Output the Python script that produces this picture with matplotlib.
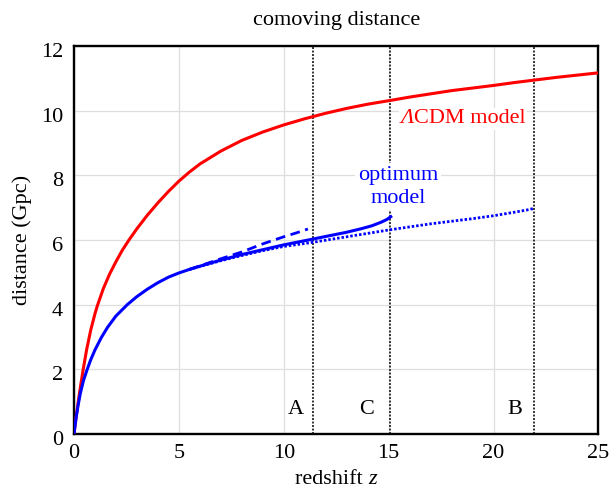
import matplotlib
matplotlib.use("Agg")
import matplotlib.pyplot as plt
import matplotlib.transforms as mtransforms
from matplotlib.offsetbox import TextArea, HPacker, AnnotationBbox

plt.rcParams['font.family'] = ['Liberation Serif', 'DejaVu Serif']

# LambdaCDM comoving distance (Gpc)
z_lcdm = [0, 0.1, 0.2, 0.3, 0.44, 0.6, 0.8, 1.0, 1.11, 1.4, 1.7, 2.0, 2.3, 2.62, 3.0, 3.5,
          4.0, 4.5, 5.0, 5.5, 6, 7, 8, 9, 10, 11, 12, 13, 14, 15.2, 16, 17, 18, 19,
          20, 21, 22, 23, 24, 25]
d_lcdm = [0, 0.52, 0.99, 1.43, 2.0, 2.6, 3.22, 3.72, 3.96, 4.5, 4.95, 5.33, 5.68, 6.0, 6.35, 6.77,
          7.15, 7.5, 7.82, 8.1, 8.35, 8.75, 9.08, 9.34, 9.56, 9.75, 9.92, 10.07, 10.2, 10.33, 10.42, 10.52, 10.62, 10.7,
          10.78, 10.87, 10.95, 11.03, 11.1, 11.17]

# optimum model, solid (ends at C)
z_opt = [0, 0.1, 0.2, 0.3, 0.45, 0.63, 0.8, 1.0, 1.3, 1.6, 2.0, 2.54, 3.0, 3.5, 4.0, 4.5, 5.0, 5.5,
         6, 7, 8, 9, 10, 11.4, 12, 13, 13.7, 14.2, 14.64, 14.9, 15.1]
d_opt = [0, 0.5, 0.9, 1.25, 1.65, 2.0, 2.3, 2.6, 2.98, 3.3, 3.65, 4.0, 4.25, 4.48, 4.68, 4.85, 4.98, 5.09,
         5.19, 5.38, 5.55, 5.7, 5.85, 6.03, 6.11, 6.24, 6.35, 6.44, 6.55, 6.63, 6.72]

# dashed branch (ends near A)
z_dash = [5.5, 6, 7, 8, 9, 10, 10.6, 11.15]
d_dash = [5.09, 5.2, 5.42, 5.63, 5.88, 6.1, 6.22, 6.34]

# dotted branch (ends at B)
z_dot = [5.5, 6, 7, 8, 9, 10, 11.4, 13, 15.1, 17, 19, 20, 21, 21.6, 21.95]
d_dot = [5.09, 5.18, 5.36, 5.52, 5.67, 5.8, 5.93, 6.1, 6.32, 6.5, 6.66, 6.75, 6.86, 6.93, 6.98]

# epochs
z_marks = [11.4, 15.05, 21.95]
mark_labels = ['A', 'C', 'B']
label_x = [10.57, 13.95, 21.0]

fig = plt.figure(figsize=(6.10, 4.92), dpi=100)
ax = fig.add_axes([0.1213, 0.1179, 0.8598, 0.7886])

ax.set_xlim(0, 25)
ax.set_ylim(0, 12)
ax.set_xticks([0, 5, 10, 15, 20, 25])
ax.set_yticks([0, 2, 4, 6, 8, 10, 12])
ax.grid(True, color='#dedede', linewidth=0.9, zorder=0)
ax.tick_params(length=0, labelsize=16)
ax.tick_params(axis='x', pad=7)
ax.tick_params(axis='y', pad=8)
for s in ax.spines.values():
    s.set_linewidth(1.7)
off = mtransforms.ScaledTranslation(0, -4 / 100, fig.dpi_scale_trans)
for lab in ax.get_yticklabels():
    lab.set_transform(lab.get_transform() + off)

for zm in z_marks:
    ax.axvline(zm, color='#333333', linestyle=(0, (1, 0.8)), linewidth=1.4, zorder=2)
for lx, lab in zip(label_x, mark_labels):
    ax.text(lx, 0.45, lab, fontsize=16, ha='center', va='bottom', zorder=4)

ax.plot(z_lcdm, d_lcdm, color='#ff0000', linewidth=2.2, zorder=3)
ax.plot(z_dot, d_dot, color='#0000ff', linestyle=(0, (0.9, 0.7)), linewidth=2.0, zorder=3)
ax.plot(z_dash, d_dash, color='#0000ff', linestyle=(0, (3.5, 2)), linewidth=2.0, zorder=3)
ax.plot(z_opt, d_opt, color='#0000ff', linewidth=2.2, zorder=3)

lam = TextArea('Λ', textprops=dict(color='#ff0000', fontsize=16, fontstyle='italic'))
cdm = TextArea('CDM model', textprops=dict(color='#ff0000', fontsize=16))
pack = HPacker(children=[lam, cdm], align='baseline', pad=0, sep=0)
ab = AnnotationBbox(pack, (18.55, 9.75), xycoords='data', frameon=True,
                    bboxprops=dict(facecolor='white', edgecolor='none'), pad=0.1, zorder=5)
ax.add_artist(ab)

ax.text(15.45, 7.65, 'optimum\nmodel', color='#0000ff', fontsize=16,
        ha='center', va='center', linespacing=1.3, zorder=5,
        bbox=dict(facecolor='white', edgecolor='none', pad=2))

ax.set_title('comoving distance', fontsize=16, pad=15)

# x label: "redshift z" with italic z
xl1 = TextArea('redshift ', textprops=dict(color='black', fontsize=16))
xl2 = TextArea('z', textprops=dict(color='black', fontsize=16, fontstyle='italic'))
xpack = HPacker(children=[xl1, xl2], align='baseline', pad=0, sep=0)
xab = AnnotationBbox(xpack, (0.5, -0.118), xycoords='axes fraction', frameon=False,
                     box_alignment=(0.5, 0.5), pad=0, annotation_clip=False)
ax.add_artist(xab)

ax.set_ylabel('distance (Gpc)', fontsize=16, labelpad=6)

fig.savefig('out.png', dpi=100)
